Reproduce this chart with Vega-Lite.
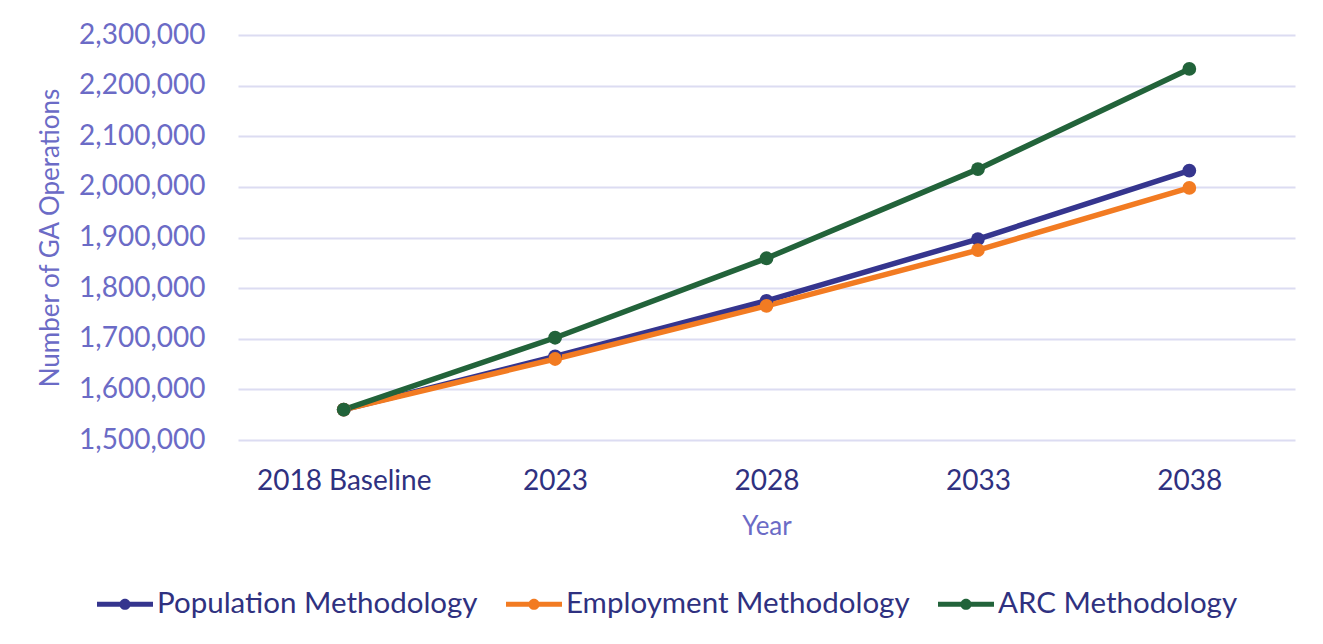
{
  "$schema": "https://vega.github.io/schema/vega-lite/v6.json",
  "width": 1057,
  "height": 405,
  "autosize": {"type": "none"},
  "padding": {"left": 238, "top": 35, "right": 28, "bottom": 204},
  "background": "white",
  "config": {
    "font": "Lato",
    "view": {"stroke": null},
    "axis": {"labelFont": "Lato", "titleFont": "Lato"},
    "legend": {"labelFont": "Lato"}
  },
  "data": {
    "values": [
      {"year": "2018 Baseline", "series": "Population Methodology", "ops": 1560000},
      {"year": "2023", "series": "Population Methodology", "ops": 1665000},
      {"year": "2028", "series": "Population Methodology", "ops": 1775000},
      {"year": "2033", "series": "Population Methodology", "ops": 1897000},
      {"year": "2038", "series": "Population Methodology", "ops": 2032000},
      {"year": "2018 Baseline", "series": "Employment Methodology", "ops": 1560000},
      {"year": "2023", "series": "Employment Methodology", "ops": 1660000},
      {"year": "2028", "series": "Employment Methodology", "ops": 1765000},
      {"year": "2033", "series": "Employment Methodology", "ops": 1875000},
      {"year": "2038", "series": "Employment Methodology", "ops": 1998000},
      {"year": "2018 Baseline", "series": "ARC Methodology", "ops": 1560000},
      {"year": "2023", "series": "ARC Methodology", "ops": 1702000},
      {"year": "2028", "series": "ARC Methodology", "ops": 1859000},
      {"year": "2033", "series": "ARC Methodology", "ops": 2035000},
      {"year": "2038", "series": "ARC Methodology", "ops": 2233000}
    ]
  },
  "encoding": {
    "x": {
      "field": "year",
      "type": "nominal",
      "sort": null,
      "scale": {"type": "point", "padding": 0.5},
      "axis": {
        "title": "Year",
        "labelAngle": 0,
        "labelFontSize": 28,
        "labelColor": "#2F3180",
        "labelPadding": 27,
        "ticks": false,
        "domain": false,
        "grid": false,
        "titleFontSize": 26,
        "titleFontWeight": "normal",
        "titleColor": "#6B6BC6",
        "titlePadding": 18
      }
    },
    "y": {
      "field": "ops",
      "type": "quantitative",
      "scale": {"domain": [1500000, 2300000], "nice": false, "zero": false},
      "axis": {
        "title": "Number of GA Operations",
        "values": [1500000, 1600000, 1700000, 1800000, 1900000, 2000000, 2100000, 2200000, 2300000],
        "format": ",d",
        "labelFontSize": 28,
        "labelColor": "#6B6BC6",
        "labelPadding": 33,
        "ticks": false,
        "domain": false,
        "gridColor": "#DCDCF2",
        "gridWidth": 2,
        "titleFontSize": 26,
        "titleFontWeight": "normal",
        "titleColor": "#6B6BC6",
        "titlePadding": 15
      }
    },
    "color": {
      "field": "series",
      "type": "nominal",
      "scale": {
        "domain": ["Population Methodology", "Employment Methodology", "ARC Methodology"],
        "range": ["#35358E", "#F27B22", "#22633A"]
      },
      "legend": {
        "title": null,
        "orient": "none",
        "direction": "horizontal",
        "legendX": -141,
        "legendY": 541,
        "labelFontSize": 29.5,
        "labelLimit": 0,
        "labelColor": "#2F3180",
        "labelOffset": 4,
        "columnPadding": 28,
        "symbolType": "M-1,-0.09H1V0.09H-1Z M0.2,0 A0.2,0.2 0 1,1 -0.2,0 A0.2,0.2 0 1,1 0.2,0Z",
        "symbolSize": 3136,
        "symbolStrokeWidth": 0,
        "encode": {
          "symbols": {
            "update": {
              "fill": {"scale": "color", "field": "value"},
              "fillOpacity": {"value": 1},
              "strokeWidth": {"value": 0}
            }
          }
        }
      }
    }
  },
  "layer": [
    {"mark": {"type": "line", "strokeWidth": 5.5}},
    {"mark": {"type": "point", "filled": true, "size": 190, "opacity": 1}}
  ]
}
